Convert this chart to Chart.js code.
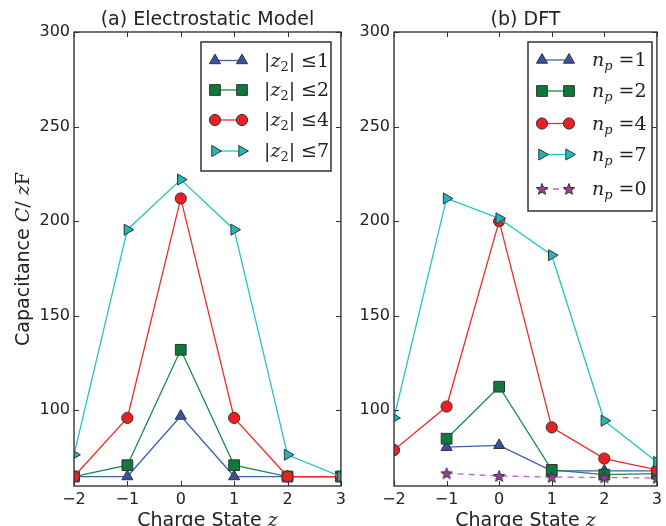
<!DOCTYPE html>
<html>
<head>
<meta charset="utf-8">
<script src="https://cdn.jsdelivr.net/npm/chart.js@4.4.1/dist/chart.umd.min.js"></script>
<style>
  html, body { margin: 0; padding: 0; background: #fff; overflow: hidden; }
  #wrap { position: relative; width: 666px; height: 526px; }
  #left { position: absolute; left: 0; top: 0; }
  #right { position: absolute; left: 350px; top: 0; }
</style>
</head>
<body>
<div id="wrap">
  <canvas id="left" width="350" height="526"></canvas>
  <canvas id="right" width="316" height="526"></canvas>
</div>
<script>
// charge states on the x axis
const chargeStates = [-2, -1, 0, 1, 2, 3];
const xTickValues = [-2, -1, 0, 1, 2, 3];
const yTickValues = [100, 150, 200, 250, 300];

// (a) electrostatic model
const esZ1 = [65, 65, 97, 65, 65, 65];
const esZ2 = [65, 71, 132, 71, 65, 65];
const esZ4 = [65, 96, 212, 96, 65, 65];
const esZ7 = [76.5, 195.5, 222, 195.5, 76.5, 65];

// (b) DFT
const dftN1 = [null, 80.5, 81.5, 68, 68, 68];
const dftN2 = [null, 85, 112.5, 68.5, 66, 66.5];
const dftN4 = [79, 102, 200, 91, 74.5, 68.5];
const dftN7 = [96, 212, 201.5, 182, 94.5, 72.7];
const dftN0 = [null, 66.7, 65.3, 64.7, 64.5, 64.2];

const FONT = 'DejaVu Sans';
const SERIF = 'DejaVu Serif';
const EDGE = '#333';

function toPoints(values) {
  return chargeStates.map((x, i) => ({ x: x, y: values[i] })).filter(p => p.y !== null);
}

// five point star marker for n_p = 0
const starImg = document.createElement('canvas');
starImg.width = 14; starImg.height = 14;
(function () {
  const c = starImg.getContext('2d');
  c.beginPath();
  for (let i = 0; i < 10; i++) {
    const r = i % 2 ? 2.6 : 6;
    const a = -Math.PI / 2 + i * Math.PI / 5;
    c.lineTo(7 + r * Math.cos(a), 7.5 + r * Math.sin(a));
  }
  c.closePath();
  c.fillStyle = '#9a3a9a';
  c.fill();
  c.strokeStyle = EDGE;
  c.lineWidth = 1;
  c.stroke();
})();

function series(values, line, fill, style, radius, extra) {
  return Object.assign({
    data: toPoints(values),
    borderColor: line,
    borderWidth: 1.3,
    pointBackgroundColor: fill,
    pointBorderColor: EDGE,
    pointBorderWidth: 1,
    pointStyle: style,
    pointRadius: radius,
    pointHoverRadius: radius,
    tension: 0
  }, extra || {});
}

const BLUE = ['#3f5fb5', '#3453a3'];
const GREEN = ['#1a8a4a', '#0b7a3b'];
const RED = ['#ee2a2a', '#ec2024'];
const CYAN = ['#26c4c4', '#1fb8bb'];

function drawRich(ctx, parts, x, y, angle, align) {
  ctx.save();
  ctx.translate(x, y);
  ctx.rotate(angle || 0);
  let total = 0;
  parts.forEach(p => { ctx.font = p.font; p.w = ctx.measureText(p.text).width; total += p.w; });
  let cx = align === 'left' ? 0 : -total / 2;
  ctx.textAlign = 'left';
  ctx.textBaseline = 'alphabetic';
  ctx.fillStyle = '#222';
  parts.forEach(p => { ctx.font = p.font; ctx.fillText(p.text, cx, p.dy || 0); cx += p.w; });
  ctx.restore();
}

const decorPlugin = {
  id: 'decor',
  afterDraw(chart, args, opts) {
    const ctx = chart.ctx;
    const a = chart.chartArea;
    const xs = chart.scales.x, ys = chart.scales.y;
    ctx.save();
    // inward ticks on all four sides
    ctx.strokeStyle = EDGE;
    ctx.lineWidth = 1;
    ctx.beginPath();
    xTickValues.forEach(v => {
      const px = Math.round(xs.getPixelForValue(v)) + 0.5;
      ctx.moveTo(px, a.bottom); ctx.lineTo(px, a.bottom - 5);
      ctx.moveTo(px, a.top); ctx.lineTo(px, a.top + 5);
    });
    yTickValues.forEach(v => {
      const py = Math.round(ys.getPixelForValue(v)) + 0.5;
      ctx.moveTo(a.left, py); ctx.lineTo(a.left + 5, py);
      ctx.moveTo(a.right, py); ctx.lineTo(a.right - 5, py);
    });
    ctx.stroke();
    // frame
    ctx.lineWidth = 1.4;
    ctx.strokeRect(a.left, a.top, a.right - a.left, a.bottom - a.top);

    // titles
    const cxm = (a.left + a.right) / 2;
    drawRich(ctx, [{ text: opts.title, font: '19px ' + FONT }], cxm, 25);
    drawRich(ctx, [
      { text: 'Charge State ', font: '19px ' + FONT },
      { text: 'z', font: 'italic 19px ' + SERIF }
    ], cxm, 526);
    if (opts.yTitle) {
      drawRich(ctx, [
        { text: 'Capacitance ', font: '19px ' + FONT },
        { text: 'C', font: 'italic 19px ' + SERIF },
        { text: '/ ', font: '19px ' + SERIF },
        { text: 'z', font: 'italic 19px ' + SERIF },
        { text: 'F', font: '19px ' + SERIF }
      ], 29, (a.top + a.bottom) / 2, -Math.PI / 2);
    }

    // legend box
    const L = opts.legend;
    ctx.fillStyle = '#fff';
    ctx.fillRect(L.x, L.y, L.w, L.h);
    ctx.strokeStyle = EDGE;
    ctx.lineWidth = 1.5;
    ctx.strokeRect(L.x, L.y, L.w, L.h);
    chart.data.datasets.forEach((ds, i) => {
      const ry = L.rows[i];
      ctx.save();
      ctx.strokeStyle = ds.borderColor;
      ctx.lineWidth = ds.borderWidth;
      ctx.setLineDash(ds.borderDash || []);
      ctx.beginPath();
      ctx.moveTo(L.m1, ry); ctx.lineTo(L.m2, ry);
      ctx.stroke();
      ctx.restore();
      [L.m1, L.m2].forEach(mx => {
        ctx.save();
        ctx.fillStyle = ds.pointBackgroundColor;
        ctx.strokeStyle = EDGE;
        ctx.lineWidth = 1;
        Chart.helpers.drawPoint(ctx, {
          pointStyle: ds.pointStyle, radius: ds.pointRadius,
          rotation: ds.pointRotation || 0, borderWidth: 1
        }, mx, ry);
        ctx.restore();
      });
      drawRich(ctx, L.labels[i], L.tx, ry + 6, 0, 'left');
    });
    ctx.restore();
  }
};

function labelZ(n) {
  return [
    { text: '|', font: '19px ' + SERIF },
    { text: 'z', font: 'italic 19px ' + SERIF },
    { text: '2', font: '13px ' + SERIF, dy: 4 },
    { text: '| ', font: '19px ' + SERIF },
    { text: '\u2264' + n, font: '19px ' + SERIF }
  ];
}
function labelN(n) {
  return [
    { text: 'n', font: 'italic 19px ' + SERIF },
    { text: 'p', font: 'italic 13px ' + SERIF, dy: 4 },
    { text: ' =' + n, font: '19px ' + SERIF }
  ];
}

function makeOptions(yWidth, padRight, plugOpts) {
  return {
    responsive: false,
    animation: false,
    layout: { padding: { top: 32, right: padRight, bottom: 0, left: 0 } },
    scales: {
      x: {
        type: 'linear', min: -2, max: 3,
        grid: { display: false, drawTicks: false },
        border: { display: false },
        afterFit: s => { s.height = 40; },
        afterBuildTicks: s => { s.ticks = xTickValues.map(v => ({ value: v })); },
        ticks: {
          padding: 4, color: '#222', font: { family: FONT, size: 16 },
          callback: v => String(v).replace('-', '\u2212')
        }
      },
      y: {
        min: 60, max: 300,
        grid: { display: false, drawTicks: false },
        border: { display: false },
        afterFit: s => { s.width = yWidth; },
        afterBuildTicks: s => { s.ticks = yTickValues.map(v => ({ value: v })); },
        ticks: { padding: 4, color: '#222', font: { family: FONT, size: 16 } }
      }
    },
    plugins: {
      legend: { display: false },
      tooltip: { enabled: false },
      decor: plugOpts
    }
  };
}

new Chart(document.getElementById('left'), {
  type: 'line',
  data: {
    datasets: [
      series(esZ1, BLUE[0], BLUE[1], 'triangle', 6.4, { order: 4 }),
      series(esZ2, GREEN[0], GREEN[1], 'rect', 7.6, { order: 3 }),
      series(esZ4, RED[0], RED[1], 'circle', 5.6, { order: 2 }),
      series(esZ7, CYAN[0], CYAN[1], 'triangle', 6.4, { pointRotation: 90, order: 1 })
    ]
  },
  options: makeOptions(74, 9, {
    title: '(a) Electrostatic Model',
    yTitle: true,
    legend: {
      x: 201, y: 42, w: 130, h: 129,
      m1: 215, m2: 242, tx: 264,
      rows: [60.5, 90, 120, 151],
      labels: [labelZ(1), labelZ(2), labelZ(4), labelZ(7)]
    }
  }),
  plugins: [decorPlugin]
});

new Chart(document.getElementById('right'), {
  type: 'line',
  data: {
    datasets: [
      series(dftN1, BLUE[0], BLUE[1], 'triangle', 6.4, { order: 5 }),
      series(dftN2, GREEN[0], GREEN[1], 'rect', 7.6, { order: 4 }),
      series(dftN4, RED[0], RED[1], 'circle', 5.6, { order: 3 }),
      series(dftN7, CYAN[0], CYAN[1], 'triangle', 6.4, { pointRotation: 90, order: 2 }),
      series(dftN0, '#c45ec4', '#9a3a9a', starImg, 5, { borderDash: [6, 5], order: 1 })
    ]
  },
  options: makeOptions(44, 8, {
    title: '(b) DFT',
    yTitle: false,
    legend: {
      x: 178, y: 42, w: 124, h: 169,
      m1: 192, m2: 219, tx: 242,
      rows: [60, 91, 123.5, 154.5, 189],
      labels: [labelN(1), labelN(2), labelN(4), labelN(7), labelN(0)]
    }
  }),
  plugins: [decorPlugin]
});
</script>
</body>
</html>
